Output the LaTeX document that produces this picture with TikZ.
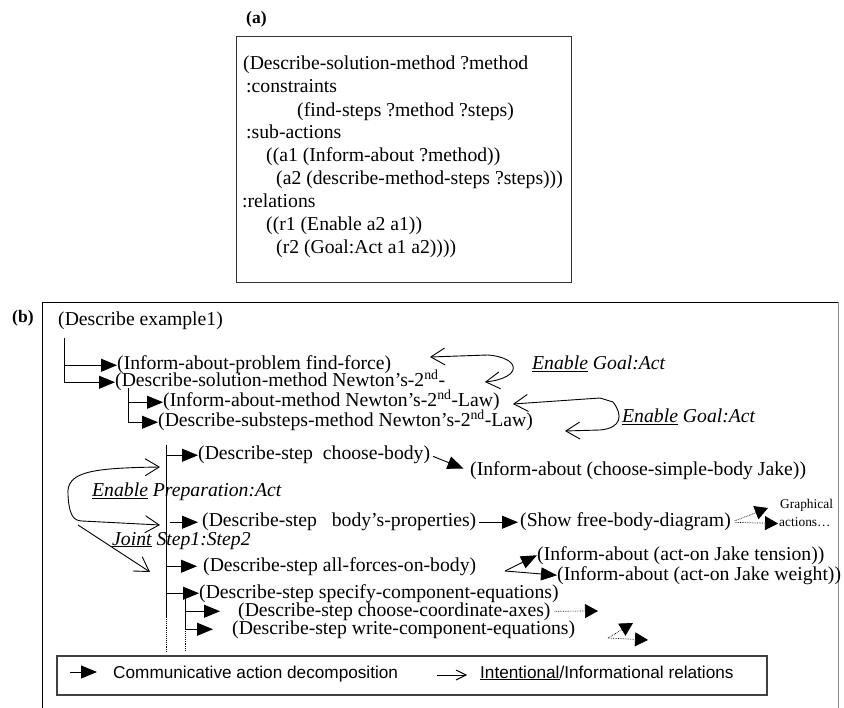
\documentclass[tikz,border=0pt]{standalone}
\usepackage{fontspec}
\setmainfont{Liberation Serif}
\setsansfont{Liberation Sans}
\usetikzlibrary{arrows.meta}
\newcommand{\planfont}{\fontsize{19.7pt}{23pt}\selectfont}
\newcommand{\keyfont}{\fontsize{17.2pt}{20pt}\selectfont\sffamily}
\newcommand{\smallfont}{\fontsize{13.4pt}{15pt}\selectfont}
\newcommand{\nd}{\textsuperscript{nd}}

\begin{document}
\begin{tikzpicture}[x=1pt, y=-1pt]
\tikzstyle{txt} = [inner sep=0pt, anchor=base west, font=\planfont, text height=12pt, text depth=2.5pt]
\tikzstyle{lbl} = [inner sep=0pt, anchor=base west, font=\fontsize{17.5pt}{20pt}\selectfont\bfseries]
\tikzstyle{rel} = [inner sep=0pt, anchor=base west, font=\planfont\itshape]
\tikzstyle{small} = [inner sep=0pt, anchor=base west, font=\smallfont, text height=9pt, text depth=2pt]
\tikzstyle{key} = [inner sep=0pt, anchor=base west, font=\keyfont]
\tikzstyle{dec} = [line width=0.9pt, -{Triangle[length=16pt,width=13pt]}]
\tikzstyle{bidir} = [line width=0.9pt, {Straight Barb[length=14pt,width=17pt]}-{Straight Barb[length=14pt,width=17pt]}]
\tikzstyle{intent} = [line width=0.9pt, -{Straight Barb[length=14pt,width=17pt]}]
\tikzstyle{gfx} = [densely dotted, line width=0.7pt, -{Triangle[length=13pt,width=14pt]}]
\tikzstyle{bar} = [line width=0.9pt]

\useasboundingbox (0,0) rectangle (844,708);

\node[lbl] (lbla) at (246,24) {(a)};
\draw[line width=0.8pt, black!80] (236,36) rectangle (571,282);
\node[txt] (a1) at (243,70) {(Describe-solution-method ?method};
\node[txt] (a2) at (246,93) {:constraints};
\node[txt] (a3) at (297,117) {(find-steps ?method ?steps)};
\node[txt] (a4) at (246,139) {:sub-actions};
\node[txt] (a5) at (266,162) {((a1 (Inform-about ?method))};
\node[txt] (a6) at (276,185) {(a2 (describe-method-steps ?steps)))};
\node[txt] (a7) at (242,208) {:relations};
\node[txt] (a8) at (266,231) {((r1 (Enable a2 a1))};
\node[txt] (a9) at (276,254) {(r2 (Goal:Act a1 a2))))};

\node[lbl] (lblb) at (12,323) {(b)};
\draw[line width=0.8pt] (42,708) -- (42,302) -- (838,302);
\draw[line width=0.8pt, black!45] (838,302) -- (838,708);

\node[txt] (root) at (58,326) {(Describe example1)};
\node[txt] (prob) at (117,370) {(Inform-about-problem find-force)};
\node[txt] (meth) at (115,387) {(Describe-solution-method Newton’s-2\nd-};
\node[txt] (infm) at (163,407) {(Inform-about-method Newton’s-2\nd-Law)};
\node[txt] (subs) at (158,427) {(Describe-substeps-method Newton’s-2\nd-Law)};
\node[txt] (body) at (198,460) {(Describe-step\ \ choose-body)};
\node[txt] (simp) at (470,476) {(Inform-about (choose-simple-body Jake))};
\node[txt] (prop) at (202,527) {(Describe-step\ \ \ body’s-properties)};
\node[txt] (show) at (520,527) {(Show free-body-diagram)};
\node[small] (gfx1) at (780,509) {Graphical};
\node[small] (gfx2) at (779,527) {actions…};
\node[txt] (forc) at (203,571) {(Describe-step all-forces-on-body)};
\node[txt] (tens) at (537,560) {(Inform-about (act-on Jake tension))};
\node[txt] (wght) at (557,580) {(Inform-about (act-on Jake weight))};
\node[txt] (spec) at (199,598) {(Describe-step specify-component-equations)};
\node[txt] (axes) at (238,616) {(Describe-step choose-coordinate-axes)};
\node[txt] (writ) at (232,634) {(Describe-step write-component-equations)};

\coordinate (bar0) at (64,338);
\coordinate (bar1) at (128,388);
\coordinate (bar2) at (166,445);
\coordinate (bar3) at (185,597);
\coordinate (foot2) at (166,652);
\coordinate (foot3) at (185,652);
\draw[dec] (bar0) |- (prob.west);
\draw[dec] (bar0) |- (meth.west);
\draw[dec] (bar1) |- (infm.west);
\draw[dec] (bar1) |- (subs.west);
\draw[dec] (bar2) |- (body.west);
\draw[dec, shorten >=4pt] ([xshift=4pt]bar2 |- prop.west) -- (prop.west);
\draw[dec, shorten >=6pt] (bar2) |- (forc.west);
\draw[dec] (bar2) |- (spec.west);
\draw[bar] (bar2) -- (166,617);
\draw[bar, densely dotted] (166,617) -- (foot2);
\draw[dec, shorten >=18pt] (bar3) |- (axes.west);
\draw[dec, shorten >=19pt] (bar3) |- (writ.west);
\draw[bar, densely dotted] (bar3 |- writ.west) -- (foot3);

\draw[dec, shorten <=3pt, shorten >=7pt] (body.east) -- (simp.west);
\draw[dec, shorten <=3pt, shorten >=2pt] (prop.east) -- (show.west);
\draw[gfx, shorten <=4pt] (show.east) -- ([xshift=-12pt, yshift=-2.5pt]gfx1.west);
\draw[gfx, shorten <=4pt] (show.east) -- ([xshift=-1pt]gfx2.west);
\coordinate (fork) at (505,571);
\draw[dec] (fork) -- (tens.west);
\draw[dec] (fork) -- (wght.west);
\coordinate (axesout) at (598,611);
\draw[gfx, shorten <=4pt] (axes.east) -- (axesout);
\coordinate (writfork) at (608,638);
\coordinate (writa) at (633,623);
\coordinate (writb) at (648,640);
\draw[gfx] (writfork) -- (writa);
\draw[gfx] (writfork) -- (writb);

\coordinate (g1a) at (430,357);
\coordinate (g1b) at (485,382);
\draw[bidir] (g1a) -- (488,355) .. controls (522,358) and (522,378) .. (g1b);
\node[rel] (goal1) at (532,370) {\underline{Enable} Goal:Act};
\coordinate (g2a) at (513,404);
\coordinate (g2b) at (565,431);
\draw[bidir] (g2a) -- (600,398) -- (613,402) .. controls (623,415) and (622,428) .. (600,430) -- (g2b);
\node[rel] (goal2) at (622,423) {\underline{Enable} Goal:Act};
\coordinate (p1) at (160,467);
\coordinate (p2) at (160,525);
\draw[bidir] (p1) .. controls (90,468) and (66,472) .. (68,495) .. controls (69,512) and (72,521) .. (82,521) -- (p2);
\coordinate (jstart) at (78,525);
\coordinate (jend) at (150,572);
\draw[intent] (jstart) -- (jend);
\node[rel] (prep) at (92,497) {\underline{Enable} Preparation:Act};
\node[rel] (joint) at (112,545) {\underline{Joint} Step1:Step2};

\draw[line width=1.2pt, black!75] (57,656) rectangle (767,695);
\node[key] (keydec) at (113,678) {Communicative action decomposition};
\node[key] (keyrel) at (480,678) {\underline{Intentional}/Informational relations};
\draw[dec] ([xshift=-43pt, yshift=6pt]keydec.base west) -- ([xshift=-16pt, yshift=6pt]keydec.base west);
\draw[line width=0.9pt, -{Straight Barb[length=10pt,width=10pt]}] ([xshift=-43pt, yshift=3pt]keyrel.base west) -- ([xshift=-13pt, yshift=3pt]keyrel.base west);
\end{tikzpicture}
\end{document}
